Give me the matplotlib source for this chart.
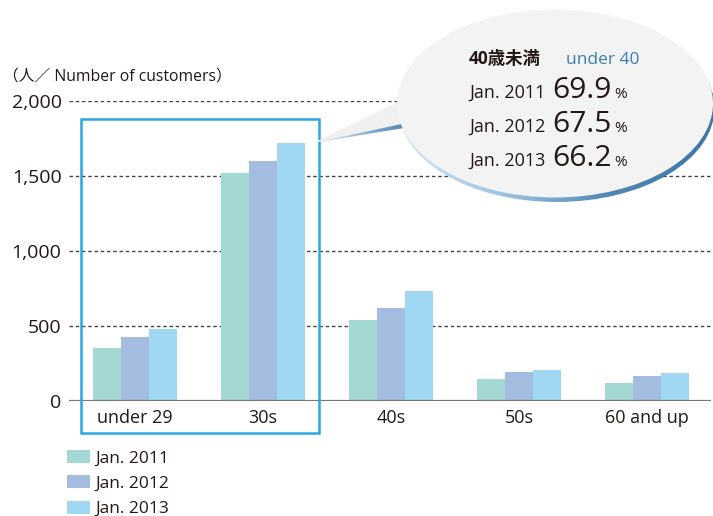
import matplotlib
matplotlib.use("Agg")
import matplotlib.pyplot as plt
import numpy as np
from matplotlib.patches import Ellipse, Rectangle, Polygon
from matplotlib.colors import LinearSegmentedColormap

plt.rcParams['font.family'] = ['Open Sans', 'Noto Sans CJK JP', 'DejaVu Sans']

categories = ["under 29", "30s", "40s", "50s", "60 and up"]
series_names = ["Jan. 2011", "Jan. 2012", "Jan. 2013"]
v2011 = [352, 1520, 540, 145, 120]
v2012 = [427, 1600, 620, 193, 167]
v2013 = [480, 1720, 735, 207, 187]
colors = ["#a4d8d4", "#a3bce0", "#a0d8f3"]
yticks = [0, 500, 1000, 1500, 2000]
ytick_labels = ["0", "500", "1,000", "1,500", "2,000"]

bubble_title_jp = "40歳未満"
bubble_title_en = "under 40"
bubble_labels = ["Jan. 2011", "Jan. 2012", "Jan. 2013"]
bubble_values = ["69.9", "67.5", "66.2"]

W, H = 713, 516
fig = plt.figure(figsize=(W / 100, H / 100), dpi=100)
ax = fig.add_axes([68.5 / W, 115 / H, (711 - 68.5) / W, 300 / H])

x = np.arange(len(categories))
bw = 28 / 128
for i, (vals, c, name) in enumerate(zip([v2011, v2012, v2013], colors, series_names)):
    ax.bar(x + (i - 1) * bw, vals, width=bw, color=c, label=name, zorder=3)

ax.set_xlim(-0.52, 4.5)
ax.set_ylim(0, 2000)
ax.set_yticks(yticks)
ax.set_yticklabels(ytick_labels)
ax.set_xticks(x)
ax.set_xticklabels(categories)
ax.tick_params(axis='both', length=0, labelsize=13, colors='#231815')
ax.tick_params(axis='y', pad=5, labelsize=14)
ax.tick_params(axis='x', pad=6)
for s in ax.spines.values():
    s.set_visible(False)
for t in yticks[1:]:
    ax.axhline(t, color='#444444', lw=1.0, ls=(0, (2.5, 2)), zorder=1)
ax.axhline(0, color='#777777', lw=1.6, zorder=4)

# highlight box
ax.add_patch(Rectangle((-0.42, -213), 1.86, 2093, fill=False, ec='#2aa7df', lw=1.8,
                       clip_on=False, zorder=5))

leg = ax.legend(loc='upper left', bbox_to_anchor=(67 / W, 1 - 450 / H),
                bbox_transform=fig.transFigure, frameon=False, fontsize=12.5,
                handlelength=1.32, handleheight=0.75, handletextpad=0.3,
                labelspacing=0.52, borderpad=0, borderaxespad=0)
for t in leg.get_texts():
    t.set_color('#231815')

# overlay in pixel coords
ov = fig.add_axes([0, 0, 1, 1], zorder=10)
ov.axis('off')
ov.patch.set_alpha(0)

ov.text(3, 77, "（人／ Number of customers）", fontsize=11.3, color='#231815',
        va='center', ha='left')

# bubble rim with gradient
cx, cy, ew, eh = 555, 103.5, 316, 188
grad = np.linspace(0, 1, 256).reshape(1, -1)
rim = Ellipse((cx + 1.5, cy + 4.5), ew, eh, fc='none', ec='none')
ov.add_patch(rim)
cmap = LinearSegmentedColormap.from_list('rim', ['#d6e8f6', '#9cc3e2', '#4f86b3', '#3d76a6'])
im = ov.imshow(grad, cmap=cmap, extent=(cx - ew / 2, cx + ew / 2 + 4, cy + eh / 2 + 6, cy - eh / 2),
               aspect='auto', zorder=1)
im.set_clip_path(rim)

# tail
ov.add_patch(Polygon([(313, 143), (400, 101), (404, 126)], closed=True, fc='#f0f0f0',
                     ec='none', zorder=1.5))
tail_im = ov.imshow(grad, cmap=LinearSegmentedColormap.from_list('t', ['#e6f1fa', '#4f86b3']),
                    extent=(313, 404, 145, 120), aspect='auto', zorder=1.6)
tp = Polygon([(313, 143), (404, 123.5), (404, 128)], closed=True, fc='none', ec='none')
ov.add_patch(tp)
tail_im.set_clip_path(tp)

ov.add_patch(Ellipse((cx, cy), ew, eh, fc='#f3f3f3', ec='none', zorder=2))
ov.set_xlim(0, W)
ov.set_ylim(H, 0)

tc = '#231815'
ov.text(469, 64, bubble_title_jp, fontsize=12.5, fontweight='bold', color=tc,
        va='baseline', ha='left', zorder=3)
ov.text(566, 64, bubble_title_en, fontsize=12.5, color='#3a7db0',
        va='baseline', ha='left', zorder=3)
for k, (lab, val) in enumerate(zip(bubble_labels, bubble_values)):
    yb = 98 + k * 34
    ov.text(469, yb, lab, fontsize=13, color=tc, va='baseline', ha='left', zorder=3)
    ov.text(552, yb, val, fontsize=21.5, color=tc, va='baseline', ha='left', zorder=3)
    ov.text(614, yb, "%", fontsize=11, color=tc, va='baseline', ha='left', zorder=3)

fig.savefig("out.png", dpi=100)
